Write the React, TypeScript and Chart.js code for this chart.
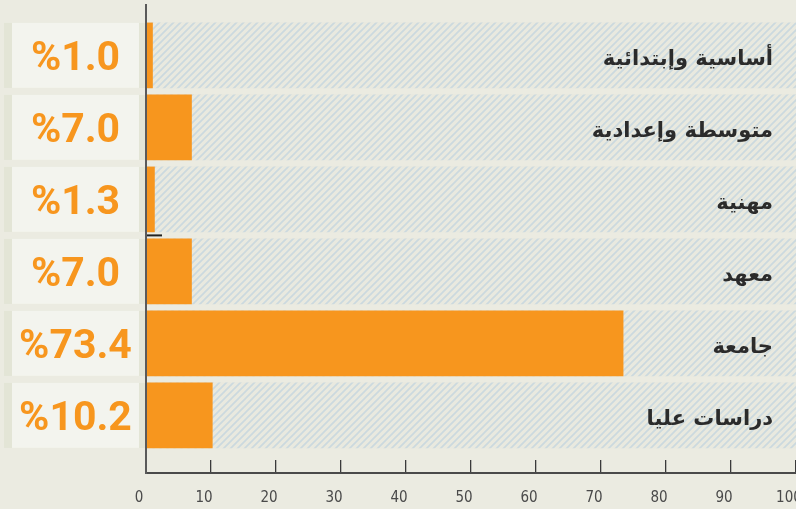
import React, { useEffect, useRef } from "react";
import { Chart, registerables } from "chart.js";

Chart.register(...registerables);

const categories = [
  "أساسية وإبتدائية",
  "متوسطة وإعدادية",
  "مهنية",
  "معهد",
  "جامعة",
  "دراسات عليا",
];
const values = [1.0, 7.0, 1.3, 7.0, 73.4, 10.2];
const fullValues = [100, 100, 100, 100, 100, 100];
const xTicks = [0, 10, 20, 30, 40, 50, 60, 70, 80, 90, 100];

const ORANGE = "#f7961e";
const PAGE_BG = "#ebebe1";
const BAR_H = 65;

function makeHatch(): CanvasPattern | string {
  const c = document.createElement("canvas");
  const s = 7;
  c.width = s;
  c.height = s;
  const g = c.getContext("2d");
  if (!g) return "#e8e8de";
  g.fillStyle = "#e9e9df";
  g.fillRect(0, 0, s, s);
  g.strokeStyle = "#cbd9df";
  g.lineWidth = 1.7;
  g.beginPath();
  g.moveTo(-1, s + 1);
  g.lineTo(s + 1, -1);
  g.moveTo(-1, 1);
  g.lineTo(1, -1);
  g.moveTo(s - 1, s + 1);
  g.lineTo(s + 1, s - 1);
  g.stroke();
  const p = g.createPattern(c, "repeat");
  return p || "#e8e8de";
}

const sidePlugin = {
  id: "sidePlugin",
  beforeDraw(chart: any) {
    const { ctx, width, height } = chart;
    ctx.save();
    ctx.fillStyle = PAGE_BG;
    ctx.fillRect(0, 0, width, height);
    ctx.restore();
  },
  afterDatasetsDraw(chart: any) {
    const { ctx } = chart;
    const y = chart.scales.y;
    const x = chart.scales.x;
    ctx.save();
    categories.forEach((cat, i) => {
      const cy = y.getPixelForValue(i);
      const top = cy - BAR_H / 2;
      // value box
      ctx.fillStyle = "#e3e5d6";
      ctx.fillRect(4, top, 141, BAR_H);
      ctx.fillStyle = "#f3f4ee";
      ctx.fillRect(12, top, 127, BAR_H);
      ctx.direction = "ltr";
      ctx.fillStyle = ORANGE;
      ctx.font = "bold 41px Roboto";
      ctx.textAlign = "center";
      ctx.textBaseline = "alphabetic";
      ctx.fillText("%" + values[i].toFixed(1), 75.5, cy + 15);
      // category label
      ctx.direction = "rtl";
      ctx.fillStyle = "#2b2b2b";
      ctx.font = "bold 21px 'DejaVu Sans'";
      ctx.textAlign = "right";
      ctx.fillText(cat, 773, cy + 10);
    });
    // small stray tick
    const yt = y.getPixelForValue(2.5);
    const x0 = x.getPixelForValue(0);
    ctx.strokeStyle = "#222";
    ctx.lineWidth = 2;
    ctx.beginPath();
    ctx.moveTo(x0, yt);
    ctx.lineTo(x0 + 16, yt);
    ctx.stroke();
    ctx.restore();
  },
};

export default function App() {
  const ref = useRef<HTMLCanvasElement | null>(null);
  useEffect(() => {
    if (!ref.current) return;
    const hatch = makeHatch();
    const chart = new Chart(ref.current, {
      type: "bar",
      data: {
        datasets: [
          {
            data: values.map((v, i) => ({ x: v, y: i })),
            backgroundColor: ORANGE,
            borderWidth: 0,
            barThickness: BAR_H,
            grouped: false,
            order: 0,
          } as any,
          {
            data: fullValues.map((v, i) => ({ x: v, y: i })),
            backgroundColor: hatch as any,
            borderWidth: 0,
            barThickness: BAR_H,
            grouped: false,
            order: 1,
          } as any,
        ],
      },
      options: {
        indexAxis: "y",
        animation: false,
        responsive: false,
        layout: { padding: { top: 5, left: 0, right: 0, bottom: 0 } },
        plugins: { legend: { display: false }, tooltip: { enabled: false } },
        scales: {
          x: {
            type: "linear",
            min: 0,
            max: 100,
            offset: false,
            afterBuildTicks: (scale: any) => {
              scale.ticks = xTicks.map((v) => ({ value: v }));
            },
            afterFit: (scale: any) => {
              scale.height = 36;
              scale.paddingLeft = 0;
              scale.paddingRight = 0;
            },
            grid: {
              drawOnChartArea: false,
              drawTicks: true,
              tickLength: -13,
              color: "#3a3a3a",
              lineWidth: (c: any) => (c.tick && c.tick.value === 0 ? 2 : 1.3),
            },
            border: { display: true, color: "#4a4a4a", width: 2 },
            ticks: {
              color: "#4a4a4a",
              padding: 29,
              labelOffset: -7,
              maxRotation: 0,
              autoSkip: false,
              font: { family: "'Liberation Sans Narrow', 'DejaVu Sans Condensed', sans-serif", size: 15 },
            },
          },
          y: {
            type: "linear",
            reverse: true,
            offset: false,
            bounds: "data",
            min: -0.7,
            max: 5.8,
            afterFit: (scale: any) => {
              scale.width = 146;
            },
            grid: { display: false, offset: false },
            border: { display: true, color: "#5a5a5a", width: 2, z: 1 } as any,
            ticks: { display: false, stepSize: 1 },
          },
        },
      } as any,
      plugins: [sidePlugin],
    });
    return () => chart.destroy();
  }, []);
  return (
    <div style={{ position: "fixed", left: 0, top: 0, width: 796, height: 509, background: PAGE_BG }}>
      <canvas ref={ref} width={796} height={509} style={{ display: "block" }} />
    </div>
  );
}
